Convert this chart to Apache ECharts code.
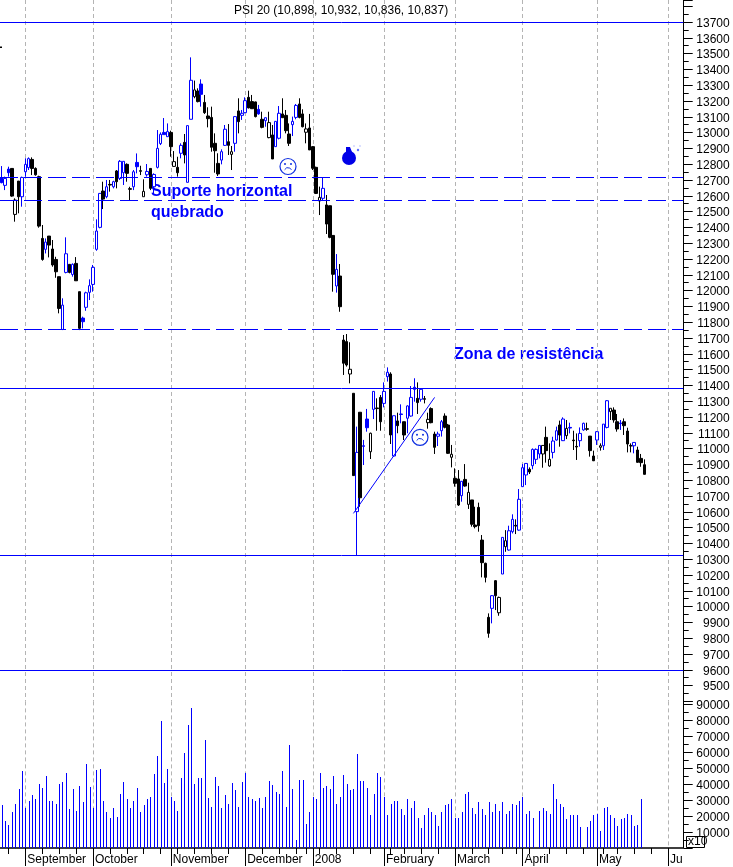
<!DOCTYPE html>
<html><head><meta charset="utf-8">
<style>html,body{margin:0;padding:0;background:#fff}#c{width:733px;height:867px}</style>
<script src="https://cdn.jsdelivr.net/npm/echarts@6/dist/echarts.min.js"></script>
</head><body><div id="c"></div>
<script>
const candleOpen=[12714,12666,12769,12773,12482,12693,12594,12752,12778,12830,
12773,12721,12330,12261,12345,12263,12197,12088,11754,12115,
12166,12102,12172,11993,11826,11894,11989,12039,12261,12400,
12630,12594,12672,12657,12757,12710,12746,12799,12645,12657,
12811,12759,12594,12733,12773,12657,12780,12930,13001,12974,
13001,12786,12780,12869,12938,12685,13084,13227,13263,13307,
13191,13105,13096,12932,12805,12826,12919,12942,12862,12932,
13137,13109,13126,13223,13196,13194,13147,13084,13075,12968,
12985,12911,12964,13118,13109,12991,13050,13096,13181,13118,
13002,13029,12911,12780,12567,12584,12542,12537,12349,12029,
12092,11687,11677,11472,11350,10601,11230,11018,11187,10980,
11248,11257,11324,11286,11455,11472,10953,11175,11219,11170,
11192,11206,11388,11318,11312,11316,11164,11253,11092,11078,
11113,11206,11149,10945,10812,10808,10702,10805,10647,10675,
10516,10628,10421,10274,9932,9989,10164,9961,10206,10379,
10358,10474,10514,10484,10759,10833,10869,10892,10932,10966,
10966,11071,10890,10976,11054,11149,11050,11082,11134,11054,
11014,11050,11118,11126,11079,10953,11054,11008,11018,11134,
11234,11244,11170,11162,11170,11111,11020,11018,10991,10938,10898];
const candleClose=[12683,12710,12746,12598,12573,12594,12716,12799,12835,12773,
12733,12408,12197,12307,12288,12162,12119,11887,11908,12233,
12115,12166,12062,11761,11803,11986,12031,12147,12377,12615,
12579,12657,12668,12689,12689,12818,12818,12742,12641,12752,
12784,12755,12628,12754,12647,12735,12900,12989,12987,13006,
12911,12816,12746,12919,12858,13044,13331,13270,13196,13242,
13126,13088,12907,12885,12738,12879,13021,12919,12879,13101,
13069,13122,13202,13156,13151,13101,13118,13033,13094,13063,
12833,13071,13122,13094,13012,12932,13071,13172,13096,13037,
13023,12890,12774,12615,12590,12647,12421,12337,12103,12134,
11898,11540,11529,11502,10829,10976,10689,11014,11132,11097,
11362,11253,11170,11362,11483,11086,11208,11145,11216,11086,
11270,11324,11375,11291,11375,11312,11185,11164,11008,11092,
11170,11135,10970,10964,10780,10643,10793,10763,10723,10521,
10506,10512,10278,10185,9831,10069,10069,10058,10438,10417,
10480,10552,10510,10679,10879,10906,10852,10995,10995,11020,
11020,10987,10932,11048,11113,11086,11187,11128,11130,11050,
11010,11096,11160,11122,10987,10923,11107,11018,11155,11303,
11255,11181,11124,11158,11145,11029,11016,11039,10913,10911,10837];
const candleLow=[12679,12636,12721,12594,12436,12489,12531,12721,12763,12731,
12727,12398,12189,12235,12210,12151,12081,11856,11750,12109,
12109,12088,12062,11750,11761,11872,11940,11993,12252,12394,
12516,12584,12626,12647,12647,12700,12668,12689,12573,12636,
12742,12731,12594,12721,12636,12615,12773,12921,12987,12974,
12847,12784,12721,12837,12805,12685,13084,13217,13191,13164,
13118,13033,12879,12746,12725,12799,12915,12858,12763,12879,
12995,13080,13122,13153,13151,13096,13113,13027,13037,12964,
12833,12911,12957,13094,12995,12915,12978,13084,13090,13033,
12932,12890,12763,12611,12478,12573,12358,12331,11993,11987,
11866,11466,11519,11413,10829,10324,10632,10896,11107,10934,
11187,11113,11113,11261,11424,11029,10949,11097,11160,11054,
11097,11202,11297,11219,11297,11286,11126,11160,10966,11016,
11076,11128,10966,10881,10759,10637,10664,10759,10618,10506,
10495,10474,10185,10153,9803,9894,9978,9942,10206,10347,
10354,10463,10459,10480,10759,10769,10839,10869,10902,10938,
10879,10911,10885,10938,11050,11012,11048,11060,11096,10991,
10928,11012,11113,11113,10949,10921,11023,10987,10991,11128,
11181,11164,11107,11118,11086,10976,10976,10970,10911,10885,10836];
const candleHigh=[12788,12721,12784,12773,12584,12693,12721,12837,12843,12843,
12780,12727,12415,12330,12345,12320,12214,12088,11951,12337,
12166,12172,12212,11993,11835,11993,12071,12162,12451,12615,
12689,12700,12700,12695,12763,12826,12818,12805,12657,12763,
12868,12790,12704,12801,12773,12742,13016,13001,13092,13058,
13012,12883,12847,12932,12991,13044,13476,13329,13280,13337,
13238,13160,13164,12995,12869,12894,13048,13054,12915,13105,
13217,13143,13223,13265,13238,13196,13175,13132,13096,13132,
13048,13073,13168,13217,13143,13058,13101,13181,13217,13147,
13058,13118,12915,12784,12658,12717,12605,12537,12349,12231,
12168,11719,11725,11673,11350,11139,11230,11055,11251,11101,
11362,11318,11339,11419,11514,11483,11208,11227,11280,11170,
11274,11396,11445,11419,11381,11333,11227,11261,11107,11107,
11181,11223,11156,11023,10875,10864,10795,10902,10784,10675,
10632,10658,10453,10278,9957,10073,10168,10063,10438,10484,
10512,10584,10552,10744,10902,10906,10881,11001,11001,11020,
11020,11139,11033,11075,11139,11177,11198,11181,11164,11113,
11096,11134,11164,11164,11079,10987,11111,11033,11155,11307,
11255,11261,11219,11181,11191,11132,11033,11039,11012,10966,10932];
const blackBars=[3,4,5,9,10,11,12,14,15,16,17,20,22,23,30,32,34,37,38,41,42,44,50,51,52,54,57,58,60,61,62,63,64,67,68,70,73,74,75,77,79,80,83,84,85,88,89,90,91,92,93,94,96,97,98,100,101,102,103,104,106,109,111,112,115,117,119,123,125,126,127,128,131,132,133,134,135,137,138,139,140,141,142,143,144,146,147,149,152,156,160,161,162,165,167,169,170,173,174,175,177,180,181,182,184,185,186,188,189,190];
const volume=[26700,17200,14700,22300,27900,36800,48100,24800,29800,33000,
30500,39900,37400,44900,29800,29800,27300,39900,41200,46800,
24200,36800,23500,38600,28600,52500,38000,24800,48700,49400,
29200,22300,19100,24800,19700,34200,41200,30500,25400,29200,
37400,22300,26700,30500,31700,46200,57500,79600,40500,49400,
32100,29800,23500,43700,59400,77100,87800,39900,43700,43700,
67600,31100,26000,44300,38600,25400,33000,27900,40500,36100,
26000,41200,47000,32300,30500,29200,31100,25400,32300,41800,
39300,34900,33600,48100,26000,64500,36800,5300,42400,42400,
15300,22300,31900,30500,46800,37400,38600,36800,44900,27300,
32300,45600,39900,36100,36800,58800,41800,41800,37800,21000,
33600,46800,44300,32100,21000,27900,29800,29200,24200,20400,
30500,24800,29800,19100,12800,21000,24800,22900,20400,14100,
22900,26700,27300,30500,19100,19100,22900,33600,34900,24800,
21600,28600,24200,20400,28600,22900,27300,23500,28600,21600,
23500,27300,26700,29800,31700,21600,23500,19100,null,23500,
24800,23500,21600,39900,30500,27900,26000,18500,21000,21000,
20400,13400,null,13400,17200,21000,21600,10900,24800,26000,
21000,19100,14100,18500,19100,21600,20400,14100,14700,30500,null];
const barCount=202;
const monthIndex=[7,27,50,72,92,113,134,154,176,197];
const monthLabels=["September","October","November","December","2008","February","March","April","May","Ju"];
const weekTicks=[2,7,12,17,22,27,32,37,42,47,50,52,57,62,67,72,77,82,87,90,92,94,99,104,109,113,115,119,124,129,134,139,144,148,152,154,156,162,167,172,176,178,182,187,192,197];
const solidLevels=[13700,11380,10327,9600];
const dashedLevels=[12717,12570,11753];
const trendLine=[[104,10590],[128,11324]];
const titleText="PSI 20 (10,898, 10,932, 10,836, 10,837)";

const BLUE='#0000ff';
const categories=Array.from({length:barCount},(_,i)=>{const m=monthIndex.indexOf(i);return m>=0?monthLabels[m]:String(i);});
const isMonth=i=>monthIndex.includes(i), isWeek=i=>weekTicks.includes(i);
const candles=candleOpen.map((o,i)=>{
  const tone=blackBars.includes(i)?'#000':BLUE;
  const body=candleClose[i]>o?'#fff':tone;
  return {value:[o,candleClose[i],candleLow[i],candleHigh[i]],
    itemStyle:{color:body,color0:body,borderColor:tone,borderColor0:tone,borderColorDoji:tone,borderWidth:1}};
});
const L={left:-0.8,width:684};
const monthSplit={show:true,interval:(i)=>isMonth(i),alignWithLabel:true,lineStyle:{color:'#b4b4b4',type:[4,3],width:1}};
function face(cx,cy){
  return {type:'group',x:cx,y:cy,silent:true,children:[
    {type:'circle',shape:{r:8},style:{fill:'#fff',stroke:'#1030e0',lineWidth:1.2}},
    {type:'circle',shape:{cx:-3,cy:-2.5,r:1},style:{fill:'#1030e0'}},
    {type:'circle',shape:{cx:3,cy:-2.5,r:1},style:{fill:'#1030e0'}},
    {type:'arc',shape:{cx:0,cy:5,r:3.8,startAngle:Math.PI*1.15,endAngle:Math.PI*1.85},style:{fill:null,stroke:'#1030e0',lineWidth:1}}
  ]};
}
const FONT='"Liberation Sans",Arial,sans-serif';
const labelRich={t:{padding:[3,0,0,0],fontSize:12,color:'#000',fontFamily:FONT}};
const chart=echarts.init(document.getElementById('c'),null,{renderer:'canvas'});
chart.setOption({
  animation:false,backgroundColor:'#fff',
  textStyle:{fontFamily:FONT},
  title:{text:titleText,left:229,top:0,textStyle:{fontSize:12,fontWeight:'normal',color:'#000',fontFamily:FONT}},
  grid:[{...L,top:0,height:701.4},{...L,top:701.4,height:146.6}],
  xAxis:[
    {type:'category',gridIndex:0,data:categories,axisLine:{show:false},axisTick:{show:false},axisLabel:{show:false},splitLine:monthSplit},
    {type:'category',gridIndex:1,position:'bottom',data:categories,axisLine:{show:true,onZero:false,lineStyle:{color:'#000',width:1.5}},
      axisTick:{show:true,alignWithLabel:true,interval:(i)=>isWeek(i),length:6,lineStyle:{color:'#000'}},axisLabel:{show:false},splitLine:monthSplit},
    {type:'category',gridIndex:1,position:'bottom',data:categories,axisLine:{show:false,onZero:false},
      axisTick:{show:true,alignWithLabel:true,interval:(i)=>isMonth(i),length:18,lineStyle:{color:'#000'}},
      axisLabel:{show:true,interval:(i)=>isMonth(i),align:'left',margin:6,padding:[0,0,0,2],color:'#000',fontSize:12,fontFamily:FONT},splitLine:{show:false}}
  ],
  yAxis:[
    {type:'value',gridIndex:0,position:'right',offset:0.5,min:9400,max:13839,interval:100,splitLine:{show:false},
      axisLine:{show:true,onZero:false,lineStyle:{color:'#000'}},axisTick:{show:true,length:9,lineStyle:{color:'#000'}},
      minorTick:{show:true,splitNumber:2,length:5,lineStyle:{color:'#000'}},
      axisLabel:{show:true,align:'right',margin:46,color:'#000',fontSize:12,rich:labelRich,showMaxLabel:false,showMinLabel:false,formatter:(v)=>(v>=9500&&v<=13700)?'{t|'+v+'}':''}},
    {type:'value',gridIndex:1,position:'right',offset:0.5,min:0,max:92000,interval:10000,splitLine:{show:false},
      axisLine:{show:true,onZero:false,lineStyle:{color:'#000'}},axisTick:{show:true,length:9,lineStyle:{color:'#000'}},
      minorTick:{show:true,splitNumber:2,length:5,lineStyle:{color:'#000'}},
      axisLabel:{show:true,align:'right',margin:46,color:'#000',fontSize:12,rich:labelRich,showMinLabel:false,showMaxLabel:false,formatter:(v)=>(v>=10000&&v<=90000)?'{t|'+v+'}':''}}
  ],
  series:[
    {type:'candlestick',xAxisIndex:0,yAxisIndex:0,barWidth:3,silent:true,data:candles,
      markLine:{silent:true,symbol:'none',label:{show:false},animation:false,lineStyle:{color:BLUE,width:1,type:'solid'},
        data:[
          ...solidLevels.map(v=>({yAxis:v})),
          ...dashedLevels.map(v=>({yAxis:v,lineStyle:{type:[18,6],color:BLUE,width:1}})),
          [{coord:trendLine[0]},{coord:trendLine[1]}]
        ]}},
    {type:'custom',xAxisIndex:1,yAxisIndex:1,silent:true,data:volume.map((v,i)=>[i,v]),encode:{x:0,y:1},
      renderItem:(params,api)=>{
        const v=api.value(1); if(v==null||isNaN(v)) return null;
        const top=api.coord([api.value(0),v]), base=api.coord([api.value(0),0]);
        const x=Math.floor(top[0]+0.4)+0.5;
        return {type:'line',shape:{x1:x,y1:Math.round(top[1]),x2:x,y2:base[1]},style:{stroke:BLUE,lineWidth:1}};
      }}
  ],
  graphic:[
    {type:'text',x:151,y:184,style:{text:'Suporte horizontal',fill:BLUE,font:'bold 16px '+FONT},silent:true},
    {type:'text',x:151,y:205,style:{text:'quebrado',fill:BLUE,font:'bold 16px '+FONT},silent:true},
    {type:'text',x:454,y:347,style:{text:'Zona de resistência',fill:BLUE,font:'bold 16px '+FONT},silent:true},
    face(288,166.5),face(420,437.3),
    {type:'group',x:349,y:158,silent:true,children:[
      {type:'circle',shape:{r:7},style:{fill:'#0000e8'}},
      {type:'polygon',shape:{points:[[-3,-6],[-3,-11],[1,-11],[3,-6]]},style:{fill:'#0000e8'}},
      {type:'circle',shape:{cx:9,cy:-8,r:1.2},style:{fill:'#6070ff'}},
      {type:'circle',shape:{cx:5,cy:-12,r:0.8},style:{fill:'#b0b8ff'}},
      {type:'circle',shape:{cx:11,cy:-12,r:0.8},style:{fill:'#b0b8ff'}}
    ]},
    {type:'rect',shape:{x:0,y:46.5,width:2,height:1.5},style:{fill:'#000'},silent:true},
    {type:'rect',shape:{x:686.5,y:836.5,width:18,height:11},style:{fill:'#fff',stroke:'#000',lineWidth:1},silent:true},
    {type:'text',x:688,y:836,style:{text:'x10',fill:'#000',font:'12px '+FONT},silent:true}
  ]
});
</script></body></html>
